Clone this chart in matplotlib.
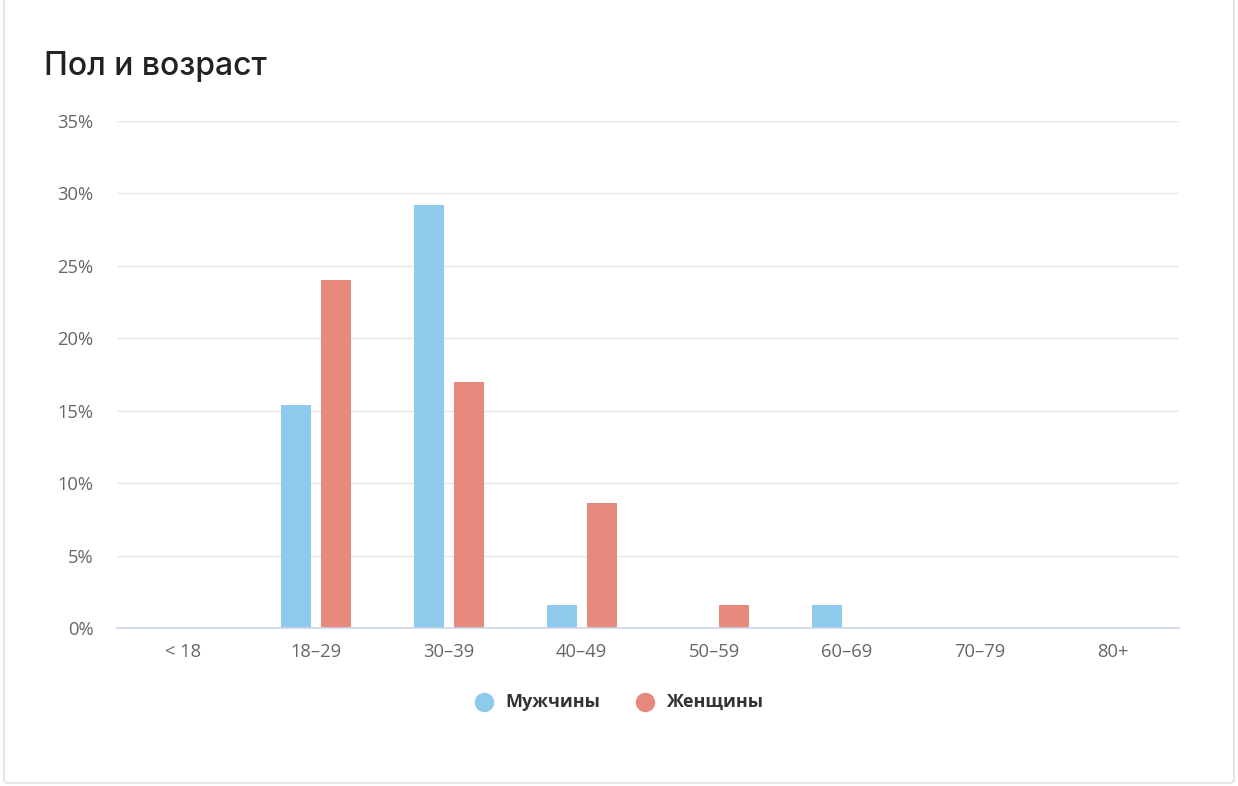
import matplotlib
matplotlib.use("Agg")
import matplotlib.pyplot as plt
from matplotlib.patches import FancyBboxPatch
from matplotlib.lines import Line2D
import numpy as np

categories = ["< 18", "18–29", "30–39", "40–49", "50–59", "60–69", "70–79", "80+"]
men = [0, 15.4, 29.2, 1.6, 0, 1.6, 0, 0]
women = [0, 24.0, 17.0, 8.6, 1.6, 0, 0, 0]
yticks = [0, 5, 10, 15, 20, 25, 30, 35]
series_names = ["Мужчины", "Женщины"]

W, H = 1238, 786
fig = plt.figure(figsize=(W / 100, H / 100), dpi=100)
fig.patch.set_facecolor("white")

# card border
card = FancyBboxPatch((4 / W, 3 / H), (1230) / W, (H + 20) / H,
                      boxstyle="round,pad=0,rounding_size=0.004",
                      transform=fig.transFigure, facecolor="white",
                      edgecolor="#e4e5ea", linewidth=1.5, zorder=-5)
fig.patches.append(card)

left, right, bottom, top = 117, 1179, 628, 121
ax = fig.add_axes([left / W, (H - bottom) / H, (right - left) / W, (bottom - top) / H])
ax.set_zorder(5)
ax.set_facecolor("none")

x = np.arange(len(categories))
bw = 0.226
off = 0.1507
c_men = "#8ecaec"
c_women = "#e8897d"
ax.bar(x - off, men, width=bw, color=c_men, zorder=3)
ax.bar(x + off, women, width=bw, color=c_women, zorder=3)

ax.set_xlim(-0.5, len(categories) - 0.5)
ax.set_ylim(0, 35)
ax.set_yticks(yticks)
ax.set_yticklabels([f"{v}%" for v in yticks])
ax.set_xticks(x)
ax.set_xticklabels(categories)
ax.grid(axis="y", color="#e6e6e6", linewidth=1, zorder=0)
ax.set_axisbelow(True)
for s in ["top", "right", "left"]:
    ax.spines[s].set_visible(False)
ax.spines["bottom"].set_color("#ccd6eb")
ax.spines["bottom"].set_linewidth(1.2)
ax.spines["bottom"].set_zorder(4)
ax.tick_params(axis="both", length=0, labelcolor="#666666", labelsize=13.2)
ax.tick_params(axis="y", pad=17)
ax.tick_params(axis="x", pad=11)
for t in ax.get_xticklabels() + ax.get_yticklabels():
    t.set_fontfamily("Open Sans")

fig.text(44 / W, 1 - 66 / H, "Пол и возраст", fontsize=23, color="#222222",
         family="Inter", fontweight="medium", va="center", ha="left")

# legend
items = [(484, 505, c_men, series_names[0]), (645, 667, c_women, series_names[1])]
for mx, tx, col, lab in items:
    fig.add_artist(Line2D([mx / W], [1 - 702 / H], marker="o", markersize=13,
                          color=col, linestyle="none", transform=fig.transFigure))
    fig.text(tx / W, 1 - 702 / H, lab, fontsize=13, fontweight="bold",
             color="#333333", family="Open Sans", va="center", ha="left")

fig.savefig("out.png", dpi=100)
